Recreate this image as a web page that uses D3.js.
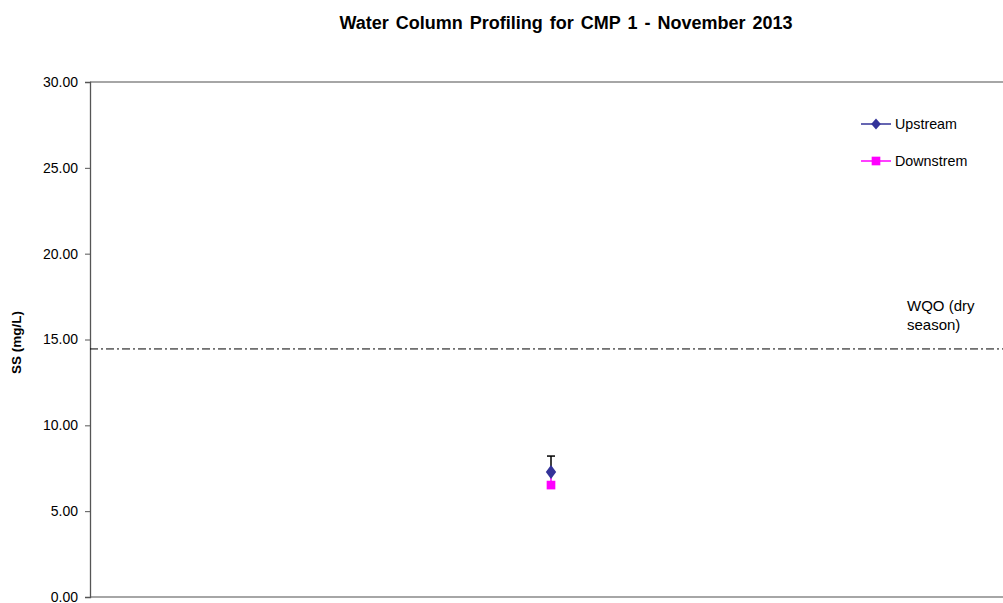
<!DOCTYPE html>
<html><head><meta charset="utf-8">
<script src="https://cdn.jsdelivr.net/npm/d3@7"></script>
<style>body{margin:0;background:#fff;} svg{display:block;font-family:"Liberation Sans",Arial,sans-serif;}</style>
</head><body>
<script>
const title = "Water Column Profiling for CMP 1 - November 2013";
const yTicks = [0, 5, 10, 15, 20, 25, 30];
const seriesNames = ["Upstream", "Downstrem"];
const seriesColors = ["#333399", "#FF00FF"];
const positions = [1];
const upstreamValues = [7.28];
const upstreamErrorHigh = [8.21];
const downstreamValues = [6.52];
const downstreamErrorHigh = [7.05];
const wqoValue = 14.45;
const wqoLabel = ["WQO (dry", "season)"];
const yLabel = "SS (mg/L)";

const W = 1003, H = 603;
const svg = d3.select("body").append("svg").attr("width", W).attr("height", H);
const m = {left: 90, top: 82, right: 1012, bottom: 597};
const x = d3.scaleLinear().domain([0, 2]).range([m.left, m.right]);
const y = d3.scaleLinear().domain([0, 30]).range([m.bottom, m.top]);

svg.append("text").attr("x", 566).attr("y", 29).attr("text-anchor", "middle")
  .attr("font-size", 18).attr("font-weight", "bold").attr("word-spacing", 2).text(title);

// plot border (top and bottom)
svg.append("line").attr("x1", m.left).attr("x2", W).attr("y1", y(30)).attr("y2", y(30)).attr("stroke", "#888").attr("stroke-width", 1.5);
svg.append("line").attr("x1", m.left).attr("x2", W).attr("y1", y(0)).attr("y2", y(0)).attr("stroke", "#888").attr("stroke-width", 1.5);

const yAxis = d3.axisLeft(y).tickValues(yTicks).tickFormat(d3.format(".2f")).tickSize(5).tickPadding(7);
const ga = svg.append("g").attr("transform", `translate(${m.left},0)`).call(yAxis);
ga.select(".domain").attr("stroke", "#555").attr("stroke-width", 1.3);
ga.selectAll(".tick line").attr("stroke", "#555");
ga.selectAll("text").attr("font-size", 14).attr("fill", "#000").attr("font-family", "Liberation Sans, Arial, sans-serif");

svg.append("text").attr("transform", `translate(21,${(m.top + m.bottom) / 2 + 3}) rotate(-90)`)
  .attr("text-anchor", "middle").attr("font-size", 13.5).attr("font-weight", "bold").text(yLabel);

// WQO line
svg.append("line").attr("x1", m.left).attr("x2", W).attr("y1", y(wqoValue)).attr("y2", y(wqoValue))
  .attr("stroke", "#000").attr("stroke-width", 1).attr("stroke-dasharray", "8,3,2,3");
svg.append("text").attr("x", 907).attr("y", 311).attr("font-size", 15)
  .selectAll("tspan").data(wqoLabel).join("tspan").attr("x", 907).attr("dy", (d, i) => i ? 19 : 0).text(d => d);

// error bars
downstreamValues.forEach((v, i) => {
  const cx = x(positions[i]);
  svg.append("line").attr("x1", cx).attr("x2", cx).attr("y1", y(v)).attr("y2", y(downstreamErrorHigh[i])).attr("stroke", seriesColors[1]).attr("stroke-width", 1.5);
});
upstreamValues.forEach((v, i) => {
  const cx = x(positions[i]);
  svg.append("line").attr("x1", cx).attr("x2", cx).attr("y1", y(v)).attr("y2", y(upstreamErrorHigh[i])).attr("stroke", "#000").attr("stroke-width", 1.5);
  svg.append("line").attr("x1", cx - 4).attr("x2", cx + 4).attr("y1", y(upstreamErrorHigh[i])).attr("y2", y(upstreamErrorHigh[i])).attr("stroke", "#000").attr("stroke-width", 1.5);
});

const diamond = d3.symbol().type(d3.symbolDiamond).size(55);
const square = d3.symbol().type(d3.symbolSquare).size(75);
svg.selectAll(".dn").data(downstreamValues).join("path")
  .attr("transform", (d, i) => `translate(${x(positions[i])},${y(d)})`).attr("d", square).attr("fill", seriesColors[1]);
svg.selectAll(".up").data(upstreamValues).join("path")
  .attr("transform", (d, i) => `translate(${x(positions[i])},${y(d)}) scale(1.3,1)`).attr("d", diamond).attr("fill", seriesColors[0]);

// legend
const legY = [124, 161];
seriesNames.forEach((n, i) => {
  const g = svg.append("g");
  g.append("line").attr("x1", 861).attr("x2", 891).attr("y1", legY[i]).attr("y2", legY[i]).attr("stroke", seriesColors[i]).attr("stroke-width", 1.5);
  g.append("path").attr("transform", `translate(876,${legY[i]})` + (i ? "" : " scale(1.2,0.8)")).attr("d", i ? square : diamond).attr("fill", seriesColors[i]);
  g.append("text").attr("x", 895).attr("y", legY[i] + 5).attr("font-size", 14.3).text(n);
});
</script>
</body></html>
